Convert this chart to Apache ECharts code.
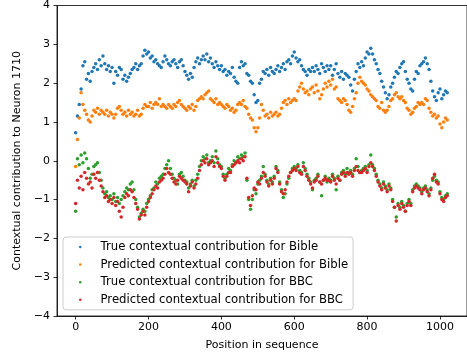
<!DOCTYPE html>
<html>
<head>
<meta charset="utf-8">
<script src="https://cdn.jsdelivr.net/npm/echarts@6/dist/echarts.min.js"></script>
<style>
  html, body { margin: 0; padding: 0; background: #ffffff; }
  #chart { width: 467px; height: 358px; }
</style>
</head>
<body>
<div id="chart"></div>
<script>
// Sampling step along the sequence (one value every STEP positions, starting at 0)
const STEP = 5;

const seriesNames = [
  'True contextual contribution for Bible',
  'Predicted contextual contribution for Bible',
  'True contextual contribution for BBC',
  'Predicted contextual contribution for BBC'
];

const xTicks = [0, 200, 400, 600, 800, 1000];
const yTicks = [-4, -3, -2, -1, 0, 1, 2, 3, 4];

const trueBible = [
  0.72, 1.15, 1.45, 1.85, 2.45, 2.55, 2.1, 2.25, 2.05, 2.3,
  2.4, 2.5, 2.35, 2.6, 2.45, 2.7, 2.5, 2.35, 2.45, 2.3,
  2.4, 2.0, 2.3, 2.2, 2.4, 2.35, 2.1, 2.2, 2.05, 2.15,
  2.25, 2.35, 2.4, 2.5, 2.35, 2.45, 2.5, 2.7, 2.85, 2.75,
  2.8, 2.65, 2.7, 2.55, 2.6, 2.5, 2.45, 2.4, 2.55, 2.7,
  2.6, 2.5, 2.45, 2.55, 2.6, 2.5, 2.4, 2.55, 2.6, 2.45,
  2.3, 2.2, 2.1, 2.25, 2.15, 2.4, 2.55, 2.65, 2.5, 2.6,
  2.7, 2.6, 2.75, 2.55, 2.65, 2.5, 2.4, 2.55, 2.45, 2.35,
  2.45, 2.3, 2.35, 2.2, 2.3, 2.25, 2.4, 2.15, 2.05, 2.0,
  2.4, 2.55, 2.45, 2.5, 2.25, 2.2, 2.05, 2.0, 1.7, 1.5,
  1.55, 2.0, 2.1, 2.3, 2.25, 2.35, 2.2, 2.4, 2.3, 2.25,
  2.35, 2.45, 2.3, 2.4, 2.5, 2.35, 2.55, 2.6, 2.5, 2.7,
  2.8, 2.65, 2.55, 2.6, 2.45, 2.35, 2.3, 2.2, 2.35, 2.3,
  2.4, 2.3, 2.45, 2.35, 2.25, 2.5, 2.4, 2.3, 2.45, 2.35,
  2.45, 2.2, 2.35, 2.5, 2.25, 2.15, 2.3, 2.1, 2.25, 2.2,
  2.15, 1.95, 1.8, 2.1, 2.3, 2.5, 2.4, 2.55, 2.45, 2.65,
  2.8, 2.75, 2.9, 2.75, 2.6, 2.5, 2.35, 2.25, 2.05, 1.9,
  1.75, 1.6, 1.7, 1.9, 2.0, 2.15, 2.3, 2.25, 2.4, 2.5,
  2.55, 2.3, 2.1, 2.0, 1.85, 1.8, 2.1, 2.3, 2.25, 2.45,
  2.5, 2.55, 2.65, 2.5, 2.35, 2.05, 1.8, 1.65, 1.55, 1.75,
  1.85, 1.6, 1.7, 1.8, 1.75
];

const predictedBible = [
  -0.15, 0.55, 1.1, 1.75, 1.45, 1.3, 1.2, 1.05, 1.0, 1.15,
  1.3, 1.25, 1.35, 1.2, 1.3, 1.25, 1.2, 1.3, 1.15, 1.25,
  1.2, 1.1, 1.2, 1.35, 1.4, 1.3, 1.2, 1.25, 1.15, 1.3,
  1.2, 1.25, 1.15, 1.2, 1.3, 1.15, 1.2, 1.35, 1.45, 1.4,
  1.4, 1.5, 1.35, 1.45, 1.5, 1.45, 1.6, 1.4, 1.45, 1.4,
  1.35, 1.45, 1.4, 1.35, 1.45, 1.4, 1.5, 1.55, 1.45, 1.4,
  1.35, 1.3, 1.4, 1.35, 1.45, 1.3, 1.4, 1.55, 1.6, 1.65,
  1.6, 1.7, 1.75, 1.8, 1.6, 1.55, 1.5, 1.6, 1.45, 1.5,
  1.45, 1.4, 1.35, 1.45, 1.4, 1.3, 1.35, 1.25, 1.3, 1.45,
  1.5, 1.45, 1.55, 1.4, 1.35, 1.2, 1.1, 1.05, 0.85, 0.75,
  0.85, 1.1, 1.45, 1.3, 1.15, 1.2, 1.1, 1.25, 1.15, 1.2,
  1.25, 1.15, 1.2, 1.35, 1.5, 1.55, 1.45, 1.6, 1.5, 1.55,
  1.6, 1.55, 1.8, 1.9, 2.0, 1.85, 1.75, 1.8, 1.7, 1.85,
  1.9, 1.75, 1.95, 1.8, 1.6, 1.7, 1.85, 2.0, 1.9, 2.05,
  1.95, 2.1, 1.85, 1.9, 1.6, 1.55, 1.5, 1.6, 1.55, 1.45,
  1.3, 1.25, 1.4, 1.6, 1.75, 2.0, 2.15, 2.05, 2.0, 1.95,
  1.85, 1.8, 1.7, 1.65, 1.6, 1.55, 1.4, 1.35, 1.5, 1.3,
  1.25, 1.3, 1.4, 1.55, 1.6, 1.7, 1.75, 1.65, 1.6, 1.65,
  1.55, 1.5, 1.35, 1.3, 1.2, 1.25, 1.35, 1.4, 1.5, 1.45,
  1.5, 1.45, 1.6, 1.55, 1.35, 1.25, 1.15, 1.2, 1.1, 1.15,
  0.95, 0.85, 1.0, 1.1, 1.05
];

const trueBBC = [
  -1.3, 0.05, -0.1, 0.15, -0.05, 0.2, 0.05, -0.2, -0.45, -0.35,
  -0.15, -0.1, -0.05, -0.3, -0.5, -0.7, -0.85, -0.8, -0.95, -0.9,
  -1.0, -0.85, -1.05, -0.95, -1.1, -1.0, -0.9, -0.8, -0.7, -0.75,
  -0.6, -0.55, -0.75, -1.0, -1.2, -1.45, -1.35, -1.25, -1.3, -1.1,
  -1.0, -0.9, -0.75, -0.7, -0.55, -0.6, -0.45, -0.4, -0.35, -0.2,
  -0.1, 0.0, -0.2, -0.35, -0.45, -0.5, -0.6, -0.35, -0.3, -0.4,
  -0.5, -0.55, -0.7, -0.6, -0.5, -0.65, -0.5, -0.35, -0.15, 0.0,
  0.1, 0.05, 0.15, -0.05, 0.0, 0.1, -0.05, 0.25, 0.05, -0.1,
  -0.15, -0.35, -0.45, -0.35, -0.2, -0.25, -0.1, 0.0, -0.05, 0.1,
  0.05, 0.15, 0.1, 0.2, -0.5, -1.0, -1.25, -1.0, -0.75, -0.85,
  -0.6, -0.5, -0.4, -0.15, -0.35, -0.5, -0.6, -0.45, -0.55, -0.4,
  -0.15, -0.25, -0.55, -0.75, -0.95, -0.85, -0.6, -0.45, -0.3, -0.2,
  -0.15, -0.2, -0.1, -0.25, -0.3, -0.05, -0.2, -0.35, -0.45, -0.55,
  -0.75, -0.5, -0.45, -0.35, -0.55, -0.9, -0.5, -0.4, -0.55, -0.45,
  -0.5, -0.35, -0.45, -0.75, -0.4, -0.5, -0.3, -0.25, -0.35, -0.2,
  -0.3, -0.25, -0.35, -0.2, 0.05, -0.15, -0.3, -0.25, -0.2, -0.15,
  -0.25, -0.1, 0.15, -0.1, -0.2, -0.35, -0.5, -0.6, -0.7, -0.55,
  -0.65, -0.75, -0.6, -0.7, -1.0, -1.2, -1.45, -1.1, -1.2, -1.05,
  -1.15, -1.3, -1.1, -1.0, -1.1, -0.75, -0.65, -0.6, -0.65, -0.7,
  -0.8, -0.7, -0.65, -0.75, -0.85, -0.7, -0.5, -0.4, -0.5, -0.55,
  -0.8, -0.95, -1.0, -0.9, -0.85
];

const predictedBBC = [
  -1.1, -0.5, -0.7, -0.4, -0.75, -0.3, -0.45, -0.6, -0.55, -0.7,
  -0.35, -0.45, -0.3, -0.5, -0.65, -0.8, -0.95, -0.9, -1.05, -1.0,
  -1.1, -0.95, -1.15, -1.05, -1.3, -1.45, -1.2, -0.95, -0.85, -0.9,
  -0.75, -0.8, -0.95, -1.1, -1.25, -1.5, -1.4, -1.3, -1.4, -1.2,
  -1.05, -0.95, -0.85, -0.75, -0.65, -0.7, -0.55, -0.5, -0.45, -0.35,
  -0.2, -0.3, -0.35, -0.45, -0.55, -0.6, -0.5, -0.4, -0.45, -0.5,
  -0.55, -0.6, -0.8, -0.65, -0.55, -0.7, -0.6, -0.45, -0.25, -0.1,
  0.0, -0.05, 0.05, -0.1, -0.05, 0.0, -0.15, 0.1, -0.05, -0.15,
  -0.2, -0.4, -0.5, -0.4, -0.3, -0.3, -0.15, -0.1, -0.05, 0.0,
  -0.05, 0.05, 0.0, 0.1, -0.45, -0.95, -1.15, -0.9, -0.7, -0.75,
  -0.55, -0.6, -0.45, -0.3, -0.4, -0.55, -0.65, -0.5, -0.6, -0.45,
  -0.2, -0.3, -0.6, -0.8, -0.85, -0.75, -0.55, -0.4, -0.3, -0.25,
  -0.2, -0.25, -0.15, -0.3, -0.35, -0.15, -0.25, -0.4, -0.5, -0.6,
  -0.7, -0.55, -0.5, -0.4, -0.55, -0.6, -0.5, -0.45, -0.5, -0.5,
  -0.55, -0.4, -0.5, -0.6, -0.45, -0.5, -0.35, -0.3, -0.4, -0.3,
  -0.35, -0.3, -0.4, -0.25, -0.15, -0.25, -0.3, -0.3, -0.25, -0.2,
  -0.3, -0.15, -0.05, -0.15, -0.25, -0.4, -0.55, -0.65, -0.75, -0.6,
  -0.7, -0.8, -0.65, -0.75, -1.05, -1.2, -1.55, -1.15, -1.25, -1.1,
  -1.2, -1.3, -1.15, -1.05, -1.15, -0.8, -0.7, -0.65, -0.7, -0.75,
  -0.85, -0.75, -0.7, -0.8, -0.9, -0.75, -0.45, -0.35, -0.55, -0.6,
  -0.85, -1.0, -1.05, -0.95, -0.9
];

const colors = ['#1f77b4', '#ff7f0e', '#2ca02c', '#d62728'];
const FONT = 'DejaVu Sans';

function pairs(values) {
  return values.map((v, i) => [i * STEP, v]);
}

// Negative tick labels use a true minus sign; no thousands separators
const fmt = v => (v < 0 ? '\u2212' + Math.abs(v) : String(v));

const chart = echarts.init(document.getElementById('chart'), null, { renderer: 'canvas' });

chart.setOption({
  animation: false,
  backgroundColor: '#ffffff',
  textStyle: { fontFamily: FONT },
  grid: {
    left: 57, top: 4, width: 416.4, height: 312,
    show: true, borderColor: '#000000', borderWidth: 0.8, backgroundColor: 'transparent'
  },
  xAxis: {
    type: 'value',
    min: -51.15, max: 1074.15,
    name: 'Position in sequence',
    nameLocation: 'middle', nameGap: 24,
    nameTextStyle: { fontFamily: FONT, fontSize: 11, color: '#000' },
    axisLine: { show: true, onZero: false, lineStyle: { color: '#000', width: 0.8 } },
    axisTick: { show: true, length: 3.5, customValues: xTicks, lineStyle: { color: '#000', width: 0.8 } },
    axisLabel: { customValues: xTicks, margin: 6, fontFamily: FONT, fontSize: 11, color: '#000', formatter: fmt },
    splitLine: { show: false }
  },
  yAxis: {
    type: 'value',
    min: -4, max: 4, interval: 1,
    name: 'Contextual contribution to Neuron 1710',
    nameLocation: 'middle', nameGap: 27, nameRotate: 90,
    nameTextStyle: { fontFamily: FONT, fontSize: 11, color: '#000' },
    axisLine: { show: true, onZero: false, lineStyle: { color: '#000', width: 0.8 } },
    axisTick: { show: true, length: 3.5, lineStyle: { color: '#000', width: 0.8 } },
    axisLabel: { margin: 7, fontFamily: FONT, fontSize: 11, color: '#000', formatter: fmt },
    splitLine: { show: false }
  },
  legend: {
    orient: 'vertical',
    left: 63, top: 237,
    padding: [3, 5, 3, 16],
    itemWidth: 2.5, itemHeight: 2.5, itemGap: 3.6,
    icon: 'circle',
    backgroundColor: 'rgba(255,255,255,0.8)',
    borderColor: '#cccccc', borderWidth: 1, borderRadius: 3,
    textStyle: { fontFamily: FONT, fontSize: 11.7, color: '#000', lineHeight: 14, padding: [0, 0, 0, 14] },
    data: seriesNames
  },
  series: [trueBible, predictedBible, trueBBC, predictedBBC].map((vals, k) => ({
    name: seriesNames[k],
    type: 'scatter',
    symbol: 'circle',
    symbolSize: 3.5,
    itemStyle: { color: colors[k], opacity: 1 },
    emphasis: { disabled: true },
    data: pairs(vals),
    z: 2 + k
  }))
});
</script>
</body>
</html>
